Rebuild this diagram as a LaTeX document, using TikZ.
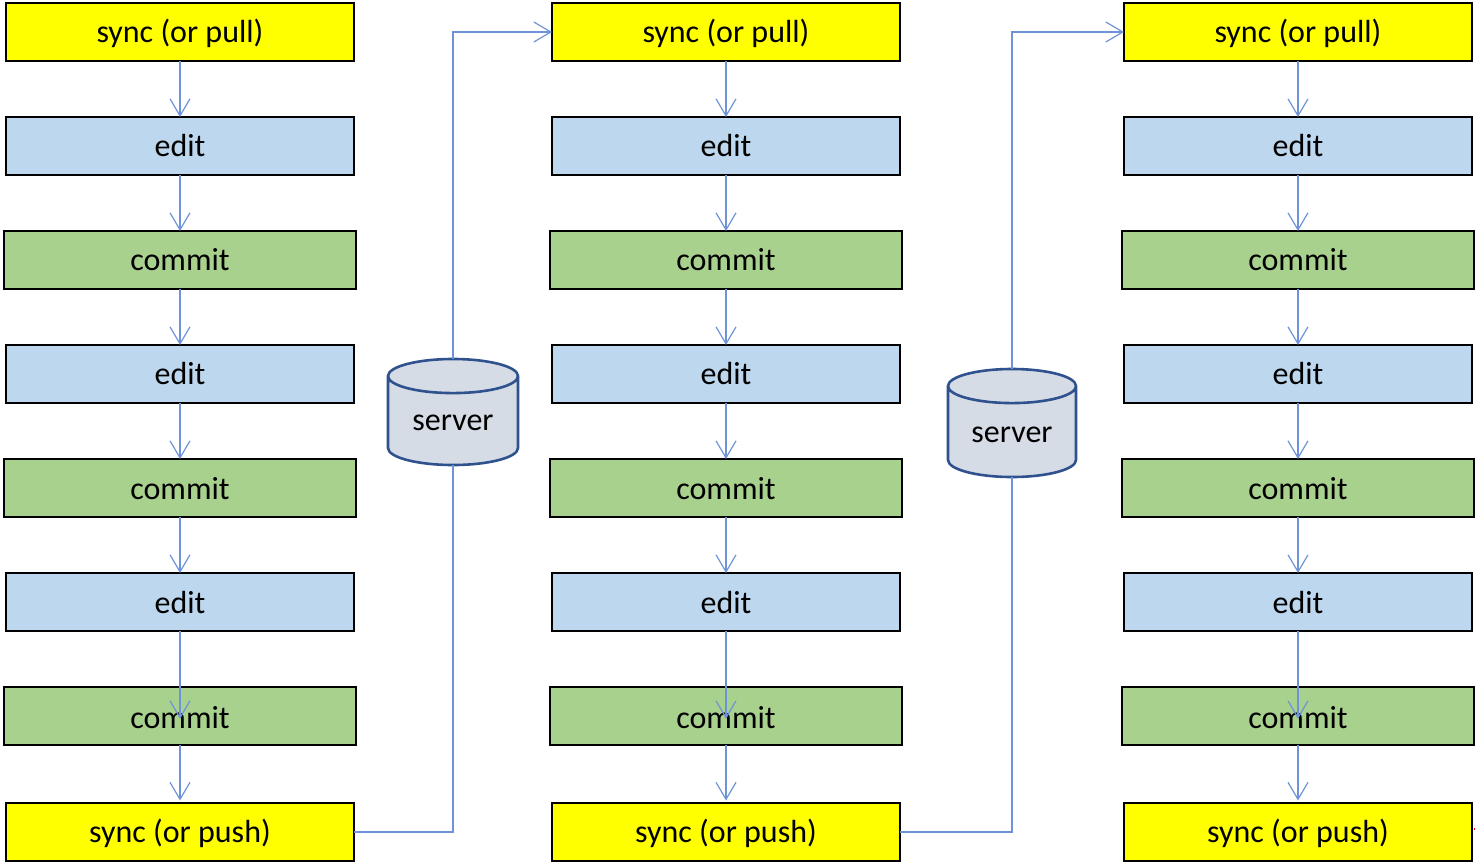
\documentclass[tikz,border=0pt]{standalone}
\usepackage{fontspec}
\setmainfont{Carlito}
\usetikzlibrary{arrows.meta,shapes.geometric}
\definecolor{flow}{HTML}{6E93D8}
\definecolor{edgeblue}{HTML}{2F528F}
\definecolor{serverfill}{HTML}{D6DCE5}
\definecolor{editfill}{HTML}{BDD7EE}
\definecolor{commitfill}{HTML}{A9D18E}
\definecolor{syncfill}{HTML}{FFFF00}
\definecolor{markred}{HTML}{FF0000}
\tikzset{
  base/.style={draw=black,line width=1.7pt,inner sep=0pt,outer sep=0pt,minimum height=58pt,font=\fontsize{32}{36}\selectfont,text=black,text height=24pt,text depth=3pt},
  syncbox/.style={base,fill=syncfill,minimum width=348pt,text height=23.5pt,text depth=3.5pt},
  editbox/.style={base,fill=editfill,minimum width=348pt},
  commitbox/.style={base,fill=commitfill,minimum width=352pt},
  lowone/.style={text height=26pt},
  lowtwo/.style={text height=28pt},
  flowline/.style={draw=flow,line width=1.5pt},
  flowarrow/.style={flowline,-{Straight Barb[length=17pt,width=20pt,line width=1.2pt]}},
  serverbox/.style={cylinder,shape border rotate=90,draw=edgeblue,line width=2.6pt,aspect=0.42,anchor=shape center,
    cylinder uses custom fill,cylinder body fill=serverfill,cylinder end fill=serverfill,
    inner sep=0pt,outer sep=0pt,font=\fontsize{32}{36}\selectfont,text=black,text depth=0pt},
}
\begin{document}
\begin{tikzpicture}[x=1pt,y=-1pt]
\useasboundingbox (0,0) rectangle (1475,862);
% column 1
\node[syncbox]   (a1) at (180,32)  {sync (or pull)};
\node[editbox]   (a2) at (180,146) {edit};
\node[commitbox] (a3) at (180,260) {commit};
\node[editbox]   (a4) at (180,374) {edit};
\node[commitbox,lowone] (a5) at (180,488) {commit};
\node[editbox,lowone]   (a6) at (180,602) {edit};
\node[commitbox,lowtwo] (a7) at (180,716) {commit};
\node[syncbox]   (a8) at (180,832) {sync (or push)};
% column 2
\node[syncbox]   (b1) at (726,32)  {sync (or pull)};
\node[editbox]   (b2) at (726,146) {edit};
\node[commitbox] (b3) at (726,260) {commit};
\node[editbox]   (b4) at (726,374) {edit};
\node[commitbox,lowone] (b5) at (726,488) {commit};
\node[editbox,lowone]   (b6) at (726,602) {edit};
\node[commitbox,lowtwo] (b7) at (726,716) {commit};
\node[syncbox]   (b8) at (726,832) {sync (or push)};
% column 3
\node[syncbox]   (c1) at (1298,32)  {sync (or pull)};
\node[editbox]   (c2) at (1298,146) {edit};
\node[commitbox] (c3) at (1298,260) {commit};
\node[editbox]   (c4) at (1298,374) {edit};
\node[commitbox,lowone] (c5) at (1298,488) {commit};
\node[editbox,lowone]   (c6) at (1298,602) {edit};
\node[commitbox,lowtwo] (c7) at (1298,716) {commit};
\node[syncbox]   (c8) at (1298,832) {sync (or push)};
% free ends of the arrows that stop inside the last commit boxes
\coordinate (a7t) at (180,719);
\coordinate (b7t) at (726,719);
\coordinate (c7t) at (1298,719);
% connectors
\foreach \c in {a,b,c}{
  \draw[flowarrow] (\c1.south) -- (\c2.north);
  \draw[flowarrow] (\c2.south) -- (\c3.north);
  \draw[flowarrow] (\c3.south) -- (\c4.north);
  \draw[flowarrow] (\c4.south) -- (\c5.north);
  \draw[flowarrow] (\c5.south) -- (\c6.north);
  \draw[flowarrow] (\c6.south) -- (\c7t);
  \draw[flowarrow,shorten >=2.5pt] (\c7.south) -- (\c8.north);
}
% servers
\node[serverbox,text height=19pt,minimum width=130pt,minimum height=106pt] (s1) at (453,412) {server};
\node[serverbox,text height=21pt,minimum width=128pt,minimum height=108pt] (s2) at (1012,423) {server};
\draw[flowline] (a8.east) -| (s1.south);
\draw[flowarrow] (s1.north) |- (b1.west);
\draw[flowline] (b8.east) -| (s2.south);
\draw[flowarrow] (s2.north) |- (c1.west);
% small red mark at the right edge
\draw[markred,line width=1.2pt] (1473.5,829) -- (1475,829);
\end{tikzpicture}
\end{document}
